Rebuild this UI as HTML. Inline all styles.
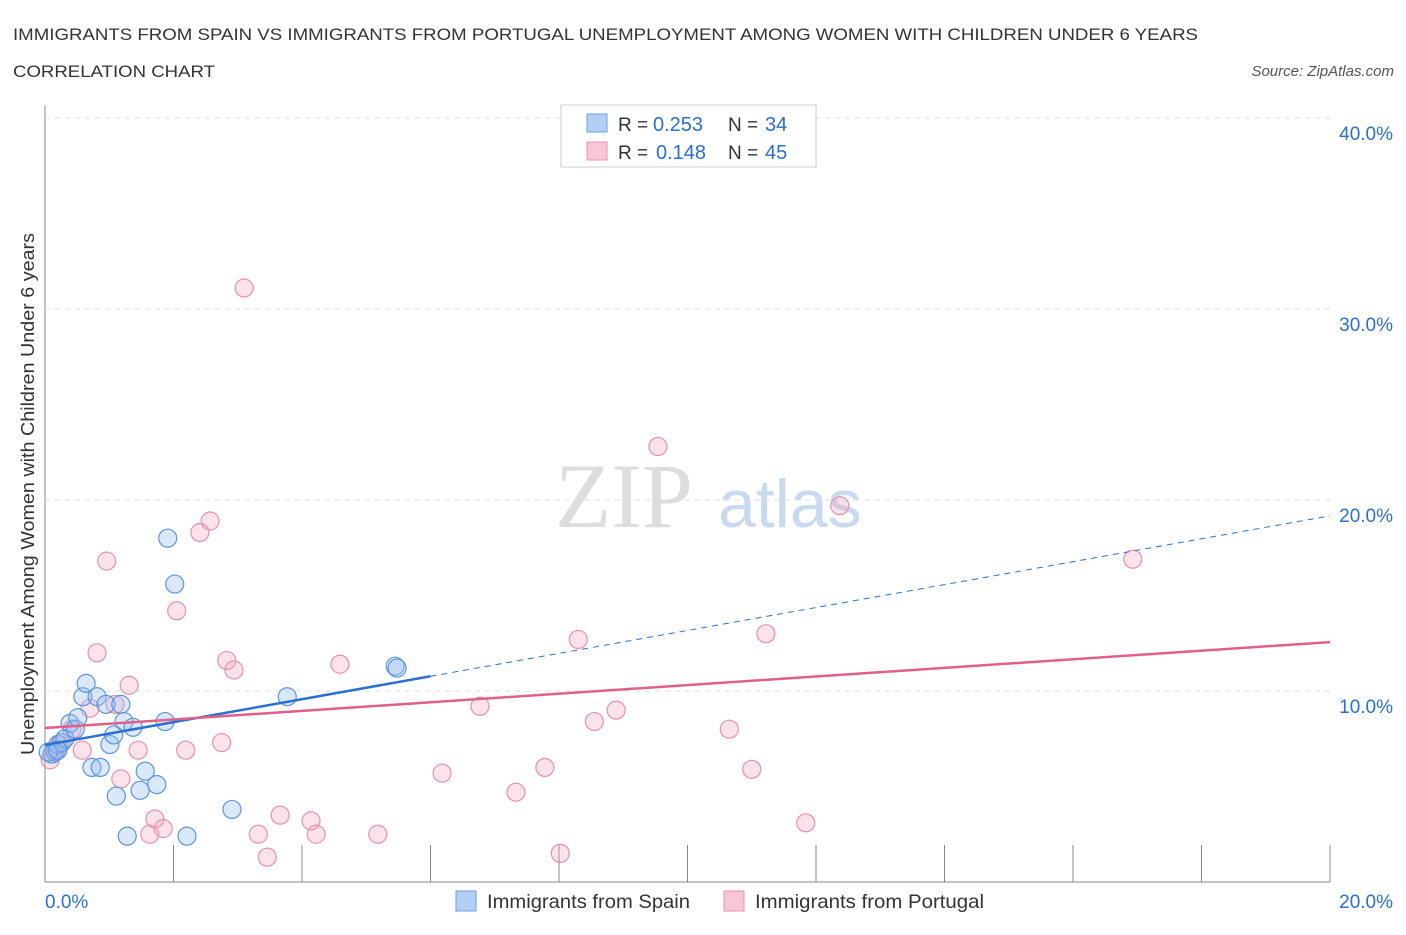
<!DOCTYPE html>
<html><head><meta charset="utf-8">
<style>
body{margin:0;background:#fff;font-family:"Liberation Sans",sans-serif;}
svg text{font-family:"Liberation Sans",sans-serif;}
svg text.serif{font-family:"Liberation Serif",serif;}
</style></head><body>
<svg id="chart" width="1406" height="930" xmlns="http://www.w3.org/2000/svg">
<text x="13" y="40" font-size="17" fill="#333" textLength="1185" lengthAdjust="spacingAndGlyphs">IMMIGRANTS FROM SPAIN VS IMMIGRANTS FROM PORTUGAL UNEMPLOYMENT AMONG WOMEN WITH CHILDREN UNDER 6 YEARS</text>
<text x="13" y="77" font-size="17" fill="#333" textLength="202" lengthAdjust="spacingAndGlyphs">CORRELATION CHART</text>
<text x="1394" y="76" font-size="15" fill="#555" text-anchor="end" font-style="italic">Source: ZipAtlas.com</text>
<text class="serif" x="555" y="527" font-size="92" fill="#ddd">ZIP</text>
<text x="718" y="527" font-size="68" fill="#c9daf0">atlas</text>
<text transform="translate(34,494) rotate(-90)" font-size="18" fill="#333" text-anchor="middle" textLength="522" lengthAdjust="spacingAndGlyphs">Unemployment Among Women with Children Under 6 years</text>
<g id="grid"></g><g id="pts"></g><g id="lines"></g>
<g>
<rect x="561" y="105" width="255" height="62" fill="#fff" stroke="#ccc"/>
<rect x="587" y="114" width="20" height="18" fill="#b3cff5" stroke="#6a9fe0"/>
<rect x="587" y="142" width="20" height="18" fill="#f9c6d5" stroke="#e891ad"/>
<text x="618" y="131" font-size="19" fill="#333">R =</text>
<text x="653" y="131" font-size="20" fill="#2a6fd1">0.253</text>
<text x="728" y="131" font-size="19" fill="#333">N =</text>
<text x="765" y="131" font-size="20" fill="#2a6fd1">34</text>
<text x="618" y="159" font-size="19" fill="#333">R =</text>
<text x="656" y="159" font-size="20" fill="#2a6fd1">0.148</text>
<text x="728" y="159" font-size="19" fill="#333">N =</text>
<text x="765" y="159" font-size="20" fill="#2a6fd1">45</text>
</g>
<g>
<rect x="456" y="891" width="20" height="20" fill="#b3cff5" stroke="#6a9fe0"/>
<text x="487" y="908" font-size="19.5" fill="#333" textLength="203" lengthAdjust="spacingAndGlyphs">Immigrants from Spain</text>
<rect x="724" y="891" width="20" height="20" fill="#f9c6d5" stroke="#e891ad"/>
<text x="755" y="908" font-size="19.5" fill="#333" textLength="229" lengthAdjust="spacingAndGlyphs">Immigrants from Portugal</text>
</g>
</svg>
<script>
const xTicks=[0,20];
const yTicks=[10,20,30,40];
const spainX=[0.11,0.16,0.2,0.26,0.31,0.39,0.47,0.51,0.59,0.64,0.73,0.81,0.86,0.95,1.01,1.07,1.11,1.18,1.23,1.28,1.37,1.48,1.56,1.74,1.87,1.91,2.02,2.21,2.91,3.77,5.45,5.48,0.05,0.2];
const spainY=[6.7,6.8,7.2,7.3,7.5,8.3,8.0,8.6,9.7,10.4,6.0,9.7,6.0,9.3,7.2,7.7,4.5,9.3,8.4,2.4,8.1,4.8,5.8,5.1,8.4,18.0,15.6,2.4,3.8,9.7,11.3,11.2,6.8,6.9];
const portX=[0.08,0.16,0.23,0.42,0.58,0.7,0.81,0.96,1.09,1.18,1.31,1.45,1.63,1.71,1.84,2.05,2.19,2.41,2.57,2.75,2.83,2.94,3.1,3.32,3.46,3.66,4.14,4.22,4.59,5.18,6.18,6.77,7.33,7.78,8.02,8.3,8.55,8.89,9.54,10.65,11.0,11.22,11.84,12.37,16.93];
const portY=[6.4,6.9,7.2,8.0,6.9,9.1,12.0,16.8,9.3,5.4,10.3,6.9,2.5,3.3,2.8,14.2,6.9,18.3,18.9,7.3,11.6,11.1,31.1,2.5,1.3,3.5,3.2,2.5,11.4,2.5,5.7,9.2,4.7,6.0,1.5,12.7,8.4,9.0,22.8,8.0,5.9,13.0,3.1,19.7,16.9];
const spainFit=[7.17,0.60];
const portFit=[8.06,0.225];
const X=v=>45+v*64.25, Y=v=>882-v*19.1;
const NS="http://www.w3.org/2000/svg";
function mk(tag,attrs,parent){const e=document.createElementNS(NS,tag);for(const k in attrs)e.setAttribute(k,attrs[k]);document.getElementById(parent).appendChild(e);return e;}
let ax=mk('line',{x1:45,y1:105,x2:45,y2:882,stroke:'#888','stroke-width':1},'grid');


let bx=mk('line',{x1:45,y1:882,x2:1330,y2:882,stroke:'#888','stroke-width':1},'grid');


for(let i=1;i<=10;i++){let t=mk('line',{x1:45+i*128.5,y1:845,x2:45+i*128.5,y2:882,stroke:'#888'},'grid');

}
yTicks.forEach(v=>{let l=mk('line',{x1:45,y1:Y(v),x2:1330,y2:Y(v),stroke:'#ddd','stroke-dasharray':'5,5'},'grid');


let t=mk('text',{x:1393,y:Y(v)+22,'font-size':19,fill:'#2a6fd1','text-anchor':'end'},'grid');t.textContent=v.toFixed(1)+'%';

});
xTicks.forEach(v=>{let t=mk('text',{x:v==0?45:1393,y:908,'font-size':19,fill:'#2a6fd1','text-anchor':v==0?'start':'end'},'grid');t.textContent=v.toFixed(1)+'%';

});
portX.forEach((x,i)=>{let c=mk('circle',{cx:X(x),cy:Y(portY[i]),r:9,fill:'rgba(244,160,185,0.3)',stroke:'#e891ad','stroke-width':1.2},'pts');

});
spainX.forEach((x,i)=>{let c=mk('circle',{cx:X(x),cy:Y(spainY[i]),r:9,fill:'rgba(150,190,240,0.35)',stroke:'#5b95dd','stroke-width':1.2},'pts');

});
const sx=6.0;
let l1=mk('line',{x1:X(0),y1:Y(spainFit[0]),x2:X(sx),y2:Y(spainFit[0]+spainFit[1]*sx),stroke:'#2a6fd1','stroke-width':2.5},'lines');


let l2=mk('line',{x1:X(sx),y1:Y(spainFit[0]+spainFit[1]*sx),x2:X(20),y2:Y(spainFit[0]+spainFit[1]*20),stroke:'#2a6fd1','stroke-width':1,'stroke-dasharray':'6,5'},'lines');


let l3=mk('line',{x1:X(0),y1:Y(portFit[0]),x2:X(20),y2:Y(portFit[0]+portFit[1]*20),stroke:'#e0608a','stroke-width':2.5},'lines');


</script>
</body></html>
